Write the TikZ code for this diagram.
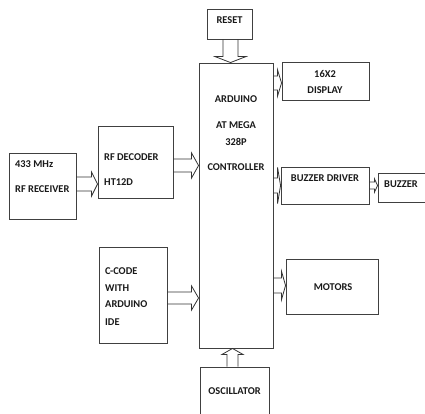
\documentclass[tikz,border=0pt]{standalone}
\usepackage{fontspec}
\setmainfont{Carlito}
\usetikzlibrary{calc}

% hollow double-line arrow: from, to, half shaft, half head, head length
\newcommand{\fatarrow}[5]{%
  \coordinate (fa-a) at (#1);
  \coordinate (fa-b) at (#2);
  \coordinate (fa-h) at ($(fa-b)!#5!(fa-a)$);
  \draw[fatline] ($(fa-a)!#3!90:(fa-b)$) -- ($(fa-h)!#3!90:(fa-b)$)
    -- ($(fa-h)!#4!90:(fa-b)$) -- (fa-b) -- ($(fa-h)!#4!-90:(fa-b)$)
    -- ($(fa-h)!#3!-90:(fa-b)$) -- ($(fa-a)!#3!-90:(fa-b)$);}

\begin{document}
\begin{tikzpicture}[x=1pt,y=-1pt,
    blk/.style={draw=black!75,line width=0.9pt,inner sep=0pt},
    lbl/.style={inner sep=0pt,text=black!90,font=\fontsize{10.4}{12}\selectfont\bfseries},
    fatline/.style={draw=black!80,line width=0.8pt,line join=miter}]
  \path[use as bounding box,clip] (0,0) rectangle (425,413);
  % blocks
  \node[blk,minimum width=45pt,minimum height=30pt] (reset) at (229.5,24) {};
  \node[blk,minimum width=74pt,minimum height=285pt] (ctrl) at (236,205.5) {};
  \node[blk,minimum width=87pt,minimum height=38pt] (disp) at (325.5,81) {};
  \node[blk,minimum width=75pt,minimum height=72pt] (dec) at (135.5,162) {};
  \node[blk,minimum width=67pt,minimum height=66pt] (rx) at (42.5,186) {};
  \node[blk,minimum width=88pt,minimum height=37pt] (drv) at (325,185.5) {};
  \node[blk,minimum width=50pt,minimum height=29pt] (buzz) at (403,187.5) {};
  \node[blk,minimum width=68pt,minimum height=96pt] (code) at (133,295) {};
  \node[blk,minimum width=92pt,minimum height=55pt] (mot) at (332,286.5) {};
  \node[blk,minimum width=69pt,minimum height=49pt] (osc) at (234.5,391.5) {};
  % texts
  \node[lbl] (reset-t) at (229.5,20) {RESET};
  \node[lbl] (ctrl-t1) at (236,99) {ARDUINO};
  \node[lbl] (ctrl-t2) at (236,125) {AT MEGA};
  \node[lbl] (ctrl-t3) at (236,142) {328P};
  \node[lbl] (ctrl-t4) at (236,167) {CONTROLLER};
  \node[lbl] (disp-t1) at (325,74) {16X2};
  \node[lbl] (disp-t2) at (325,90) {DISPLAY};
  \node[lbl,anchor=west] (dec-t1) at (104,157) {RF DECODER};
  \node[lbl,anchor=west] (dec-t2) at (104,182) {HT12D};
  \node[lbl,anchor=west] (rx-t1) at (15,164) {433 MHz};
  \node[lbl,anchor=west] (rx-t2) at (15,189) {RF RECEIVER};
  \node[lbl] (drv-t) at (325,178) {BUZZER DRIVER};
  \node[lbl,anchor=west] (buzz-t) at (384,184) {BUZZER};
  \node[lbl,anchor=west] (code-t1) at (105,271) {C-CODE};
  \node[lbl,anchor=west] (code-t2) at (105,288) {WITH};
  \node[lbl,anchor=west] (code-t3) at (105,304) {ARDUINO};
  \node[lbl,anchor=west] (code-t4) at (105,322) {IDE};
  \node[lbl] (mot-t) at (333,287) {MOTORS};
  \node[lbl] (osc-t) at (234.5,391) {OSCILLATOR};
  % connectors
  \fatarrow{230.5,0 |- reset.south}{230.5,0 |- ctrl.north}{7.5pt}{15.5pt}{6pt}
  \fatarrow{rx.east |- 0,184}{dec.west |- 0,184}{7pt}{12pt}{6pt}
  \fatarrow{dec.east |- 0,165.5}{ctrl.west |- 0,165.5}{6.5pt}{12.5pt}{7pt}
  \fatarrow{code.east |- 0,298}{ctrl.west |- 0,298}{6pt}{12pt}{7pt}
  \fatarrow{232.5,0 |- osc.north}{232.5,0 |- ctrl.south}{5.5pt}{10.5pt}{6pt}
  \fatarrow{ctrl.east |- 0,83}{disp.west |- 0,83}{7pt}{13pt}{4pt}
  \fatarrow{ctrl.east |- 0,185.5}{drv.west |- 0,185.5}{7.5pt}{18pt}{3pt}
  \fatarrow{drv.east |- 0,185.5}{buzz.west |- 0,185.5}{3.5pt}{6.5pt}{3pt}
  \fatarrow{ctrl.east |- 0,285.5}{mot.west |- 0,285.5}{7.5pt}{14pt}{4pt}
\end{tikzpicture}
\end{document}
